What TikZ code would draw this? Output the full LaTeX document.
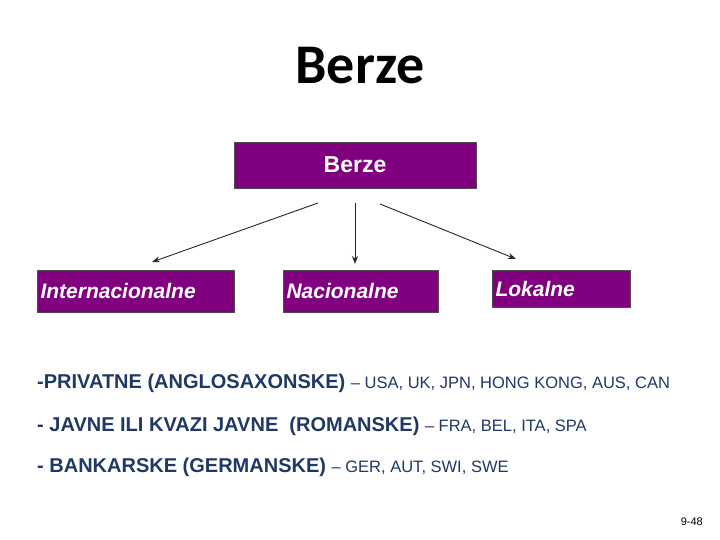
\documentclass[tikz,border=0pt]{standalone}
\usepackage{fontspec}
\usetikzlibrary{arrows.meta}
\setmainfont{Liberation Sans}
\newfontfamily\titlefont{Carlito}
\definecolor{pur}{HTML}{800080}
\definecolor{navy}{HTML}{1F3864}
\tikzset{
  box/.style={draw=black!70, fill=pur, text=white, font=\bfseries\itshape\fontsize{21}{23}\selectfont, inner sep=0pt},
  arr/.style={-{Stealth[length=8pt,width=6pt]}, line width=0.9pt, black!85},
  line/.style={anchor=west, text=navy, font=\bfseries\fontsize{20}{22}\selectfont, inner sep=0pt}
}
\begin{document}
\begin{tikzpicture}[x=1pt,y=-1pt]
\useasboundingbox (0,0) rectangle (720,540);
\node[font=\titlefont\bfseries\fontsize{56}{60}\selectfont] (title) at (360,66) {Berze};
\node[box, minimum width=242pt, minimum height=46pt, font=\bfseries\fontsize{23}{25}\selectfont] (b) at (355,165) {Berze};
\node[box, minimum width=197pt, minimum height=42pt, text width=190pt, align=left] (i) at (135.5,291) {Internacionalne};
\node[box, minimum width=155pt, minimum height=42pt, text width=148pt, align=left] (n) at (360.5,291) {Nacionalne};
\node[box, minimum width=138pt, minimum height=37pt, text width=131pt, align=left] (l) at (561,288.5) {Lokalne};
\coordinate (s1) at (318,203); \coordinate (e1) at (152,262);
\coordinate (s2) at (355,203); \coordinate (e2) at (355,264);
\coordinate (s3) at (380,204); \coordinate (e3) at (516,259);
\draw[arr] (s1) -- (e1);
\draw[arr] (s2) -- (e2);
\draw[arr] (s3) -- (e3);
\node[line] (t1) at (37,383) {-PRIVATNE (ANGLOSAXONSKE) {\mdseries\fontsize{16.5}{18}\selectfont -- USA, UK, JPN, HONG KONG, AUS, CAN}};
\node[line] (t2) at (37,426) {- JAVNE ILI KVAZI JAVNE\ \ (ROMANSKE) {\mdseries\fontsize{16.5}{18}\selectfont -- FRA, BEL, ITA, SPA}};
\node[line] (t3) at (37,467) {- BANKARSKE (GERMANSKE) {\mdseries\fontsize{16.5}{18}\selectfont -- GER, AUT, SWI, SWE}};
\node[font=\fontsize{11}{13}\selectfont, anchor=east, inner sep=0pt] (pg) at (703,522) {9-48};
\end{tikzpicture}
\end{document}
